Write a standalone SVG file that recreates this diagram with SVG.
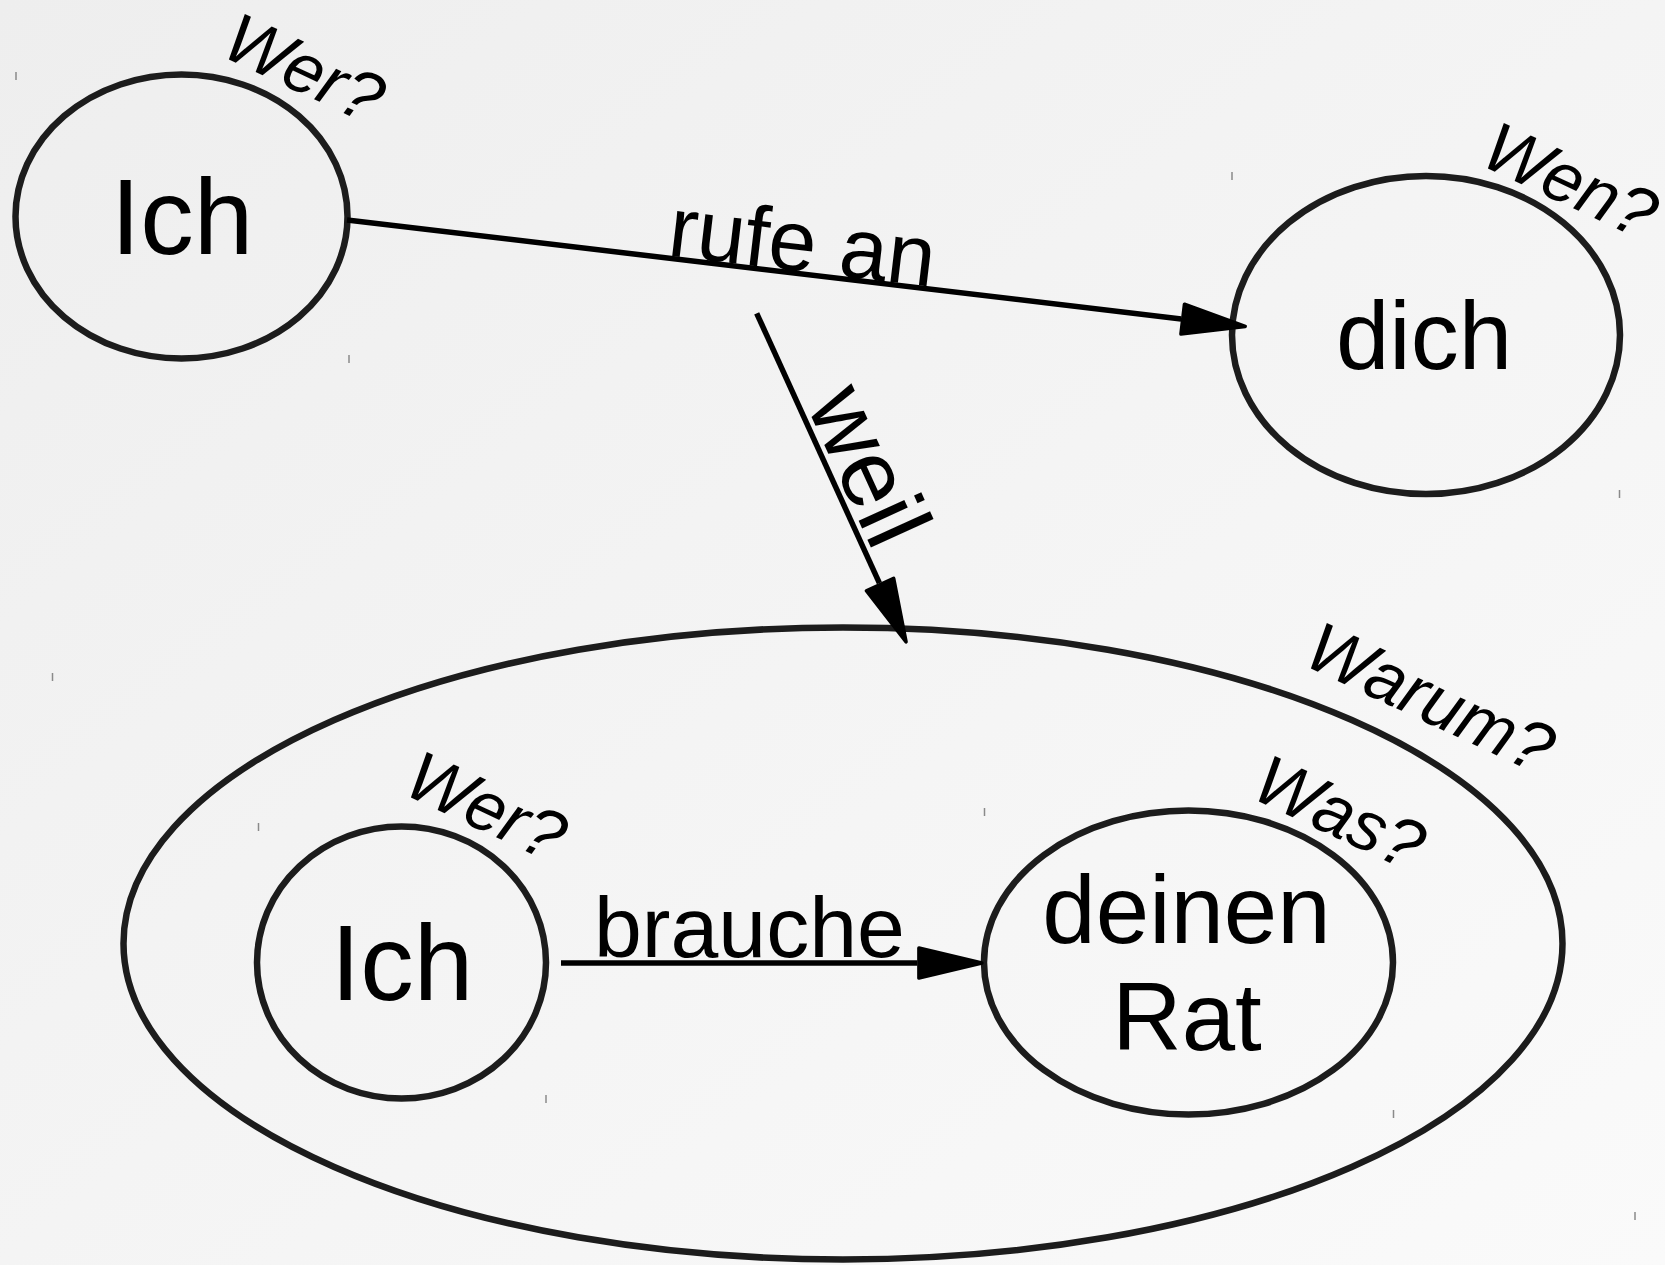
<svg xmlns="http://www.w3.org/2000/svg" width="1665" height="1265" viewBox="0 0 1665 1265">
  <defs>
    <linearGradient id="bg" x1="0" y1="0" x2="1" y2="1">
      <stop offset="0" stop-color="#eeeeee"/>
      <stop offset="1" stop-color="#fafafa"/>
    </linearGradient>
    <marker id="arrow" markerUnits="userSpaceOnUse" orient="auto" refX="0" refY="0" markerWidth="80" markerHeight="40" viewBox="0 -20 80 40" overflow="visible">
      <path d="M1.5,-15 L64.5,0 L1.5,15 Z" fill="#000" stroke="#000" stroke-width="3.5" stroke-linejoin="round"/>
    </marker>
  </defs>
  <style>
    .node { fill: none; stroke: #1c1c1c; stroke-width: 6.5; }
    .main { font-family: "Liberation Sans", Arial, sans-serif; fill: #000; text-anchor: middle; }
    .q { font-family: "Liberation Sans", Arial, sans-serif; font-style: italic; font-size: 70px; fill: #000; }
    .edge { stroke: #000; stroke-width: 5.5; fill: none; marker-end: url(#arrow); }
    .elab { font-family: "Liberation Sans", Arial, sans-serif; fill: #000; }
    .tick { stroke: #8a8a8a; stroke-width: 1.5; }
  </style>
  <rect x="0" y="0" width="1665" height="1265" fill="url(#bg)"/>

  <g id="ticks">
    <line class="tick" x1="16" y1="72" x2="16" y2="80"/>
    <line class="tick" x1="349" y1="355" x2="349" y2="363"/>
    <line class="tick" x1="1232" y1="172" x2="1232" y2="180"/>
    <line class="tick" x1="1619.5" y1="490" x2="1619.5" y2="498"/>
    <line class="tick" x1="52.5" y1="673" x2="52.5" y2="681"/>
    <line class="tick" x1="258.5" y1="823" x2="258.5" y2="831"/>
    <line class="tick" x1="546" y1="1095" x2="546" y2="1103"/>
    <line class="tick" x1="984.5" y1="808" x2="984.5" y2="816"/>
    <line class="tick" x1="1393.5" y1="1110" x2="1393.5" y2="1118"/>
    <line class="tick" x1="1635" y1="1212" x2="1635" y2="1220"/>
  </g>

  <g id="node-weil-clause">
    <ellipse class="node" cx="843" cy="943.5" rx="719.5" ry="316"/>
    <text class="q" transform="translate(1301,664) rotate(25)">Warum?</text>
  </g>

  <g id="node-ich-1">
    <ellipse class="node" cx="181.5" cy="216.5" rx="166" ry="142"/>
    <text class="main" x="182" y="254" font-size="107">Ich</text>
    <text class="q" transform="translate(219,55) rotate(25)" font-size="69">Wer?</text>
  </g>

  <g id="node-dich">
    <ellipse class="node" cx="1426" cy="335" rx="194" ry="159"/>
    <text class="main" x="1424" y="369" font-size="96">dich</text>
    <text class="q" transform="translate(1478,164) rotate(25)" font-size="62">Wen?</text>
  </g>

  <g id="node-ich-2">
    <ellipse class="node" cx="401.5" cy="962.5" rx="144.5" ry="136"/>
    <text class="main" x="402" y="1000" font-size="107">Ich</text>
    <text class="q" transform="translate(401,793) rotate(25)">Wer?</text>
  </g>

  <g id="node-rat">
    <ellipse class="node" cx="1188.5" cy="962.5" rx="204.5" ry="152"/>
    <text class="main" font-size="96"><tspan x="1186.5" y="943">deinen</tspan><tspan x="1187" y="1050">Rat</tspan></text>
    <text class="q" transform="translate(1249,797) rotate(25)">Was?</text>
  </g>

  <g id="connectors">
    <line class="edge" x1="347" y1="220" x2="1181.2" y2="318.9"/>
    <line class="edge" x1="756.7" y1="313.3" x2="879.4" y2="583.2"/>
    <line class="edge" x1="561" y1="963" x2="917.4" y2="963"/>
    <text class="elab" font-size="86" text-anchor="middle" transform="translate(350,220) rotate(6.75)" x="452" y="-2">rufe an</text>
    <text class="elab" font-size="95" text-anchor="middle" transform="translate(756.7,313.3) rotate(65.56)" x="185" y="-7">weil</text>
    <text class="elab" font-size="86" x="594" y="957">brauche</text>
  </g>
</svg>
